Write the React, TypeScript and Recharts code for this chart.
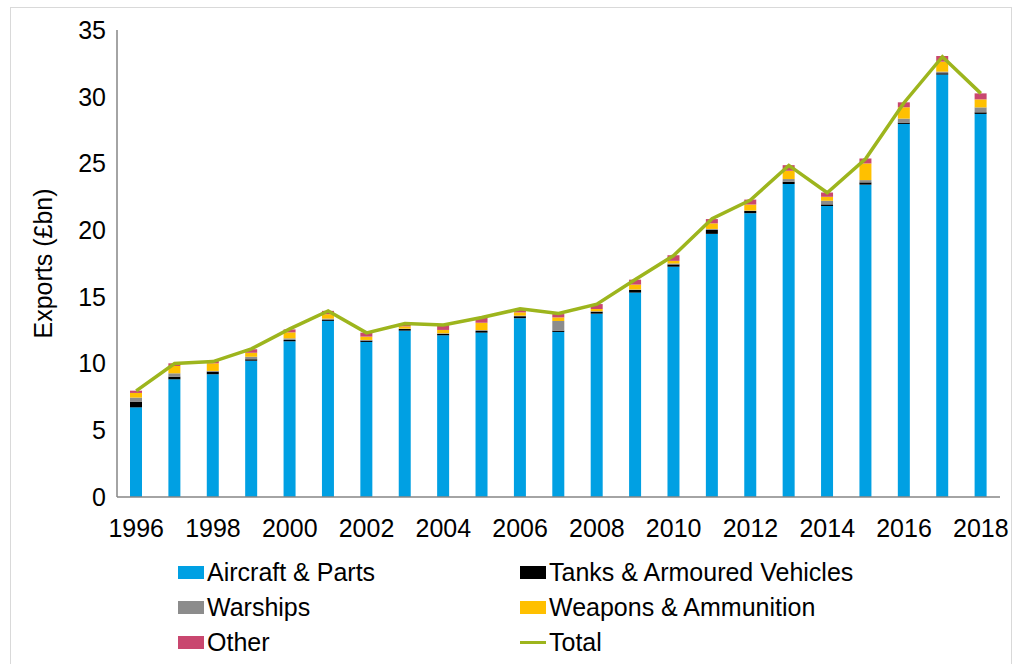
import { ComposedChart, Bar, Line, XAxis, YAxis } from 'recharts';

const YEARS = [
  '1996', '1997', '1998', '1999', '2000', '2001', '2002', '2003', '2004', '2005', '2006', '2007',
  '2008', '2009', '2010', '2011', '2012', '2013', '2014', '2015', '2016', '2017', '2018',
];
const AIRCRAFT = [
  6.72, 8.82, 9.2, 10.22, 11.67, 13.2, 11.62, 12.47, 12.12, 12.32, 13.4, 12.37,
  13.74, 15.32, 17.26, 19.72, 21.27, 23.46, 21.81, 23.41, 27.96, 31.66, 28.71,
];
const TANKS = [
  0.43, 0.2, 0.2, 0.1, 0.1, 0.1, 0.1, 0.12, 0.1, 0.12, 0.15, 0.1,
  0.15, 0.2, 0.17, 0.3, 0.17, 0.17, 0.12, 0.17, 0.1, 0.1, 0.12,
];
const WARSHIPS = [
  0.3, 0.25, 0.05, 0.2, 0.12, 0.07, 0.05, 0.03, 0.05, 0.07, 0.04, 0.72,
  0.03, 0.03, 0.07, 0.07, 0.03, 0.2, 0.27, 0.17, 0.3, 0.12, 0.37,
];
const WEAPONS = [
  0.35, 0.55, 0.57, 0.3, 0.45, 0.33, 0.25, 0.17, 0.25, 0.55, 0.25, 0.27,
  0.17, 0.37, 0.2, 0.42, 0.45, 0.62, 0.3, 1.25, 0.85, 0.75, 0.6,
];
const OTHER = [
  0.17, 0.2, 0.17, 0.25, 0.22, 0.25, 0.3, 0.2, 0.37, 0.37, 0.2, 0.25,
  0.37, 0.37, 0.42, 0.32, 0.37, 0.42, 0.32, 0.37, 0.37, 0.42, 0.45,
];
const TOTAL = [
  7.95, 10.0, 10.15, 11.1, 12.6, 13.95, 12.3, 13.0, 12.9, 13.45, 14.1, 13.75,
  14.45, 16.3, 18.1, 20.85, 22.25, 24.85, 22.8, 25.35, 29.55, 33.0, 30.25,
];

const COLORS = {
  aircraft: '#00A0E3',
  tanks: '#000000',
  warships: '#8C8C8C',
  weapons: '#FFC000',
  other: '#C9476F',
  total: '#9DB51D',
};

const data = YEARS.map((year, i) => ({
  year,
  aircraft: AIRCRAFT[i],
  tanks: TANKS[i],
  warships: WARSHIPS[i],
  weapons: WEAPONS[i],
  other: OTHER[i],
  total: TOTAL[i],
}));

const FONT = 'Arial, "Liberation Sans", sans-serif';

const LEGEND = [
  { name: 'Aircraft & Parts', color: COLORS.aircraft, line: false },
  { name: 'Tanks & Armoured Vehicles', color: COLORS.tanks, line: false },
  { name: 'Warships', color: COLORS.warships, line: false },
  { name: 'Weapons & Ammunition', color: COLORS.weapons, line: false },
  { name: 'Other', color: COLORS.other, line: false },
  { name: 'Total', color: COLORS.total, line: true },
];

const Legend = () => (
  <div style={{ position: 'absolute', left: 178, top: 557, width: 760, fontFamily: FONT, fontSize: 25 }}>
    {LEGEND.map((item, idx) => (
      <div
        key={item.name}
        style={{
          position: 'absolute',
          left: idx % 2 === 0 ? 0 : 342,
          top: Math.floor(idx / 2) * 35,
          display: 'flex',
          alignItems: 'center',
          height: 30,
          whiteSpace: 'nowrap',
        }}
      >
        {item.line ? (
          <span style={{ width: 26, height: 3, backgroundColor: item.color, marginRight: 3 }} />
        ) : (
          <span style={{ width: 26, height: 13, backgroundColor: item.color, marginRight: 3 }} />
        )}
        <span>{item.name}</span>
      </div>
    ))}
  </div>
);

export default function App() {
  return (
    <div style={{ position: 'absolute', left: 0, top: 0, width: 1018, height: 664, background: '#fff', overflow: 'hidden' }}>
      <div style={{ position: 'absolute', left: 10, top: 7, width: 1000, height: 680, border: '1px solid #d9d9d9' }} />
      <div style={{ position: 'absolute', left: 0, top: 0 }}>
        <ComposedChart
          width={1018}
          height={552}
          data={data}
          margin={{ top: 30, right: 18, left: 27, bottom: 0 }}
          barCategoryGap={0}
        >
          <XAxis
            dataKey="year"
            interval={1}
            tickLine={false}
            axisLine={{ stroke: '#868686', strokeWidth: 1.5 }}
            tick={{ fill: '#000', fontSize: 25, fontFamily: FONT }}
            tickMargin={16}
            height={55}
          />
          <YAxis
            width={90}
            domain={[0, 35]}
            ticks={[0, 5, 10, 15, 20, 25, 30, 35]}
            tickLine={false}
            axisLine={{ stroke: '#868686', strokeWidth: 1.5 }}
            tick={{ fill: '#000', fontSize: 25, fontFamily: FONT }}
            tickMargin={5}
            label={{
              value: 'Exports (£bn)',
              angle: -90,
              position: 'insideLeft',
              offset: 16,
              style: { textAnchor: 'middle', fontSize: 25, fontFamily: FONT, fill: '#000' },
            }}
          />
          <Bar dataKey="aircraft" stackId="a" fill={COLORS.aircraft} barSize={12} isAnimationActive={false} />
          <Bar dataKey="tanks" stackId="a" fill={COLORS.tanks} barSize={12} isAnimationActive={false} />
          <Bar dataKey="warships" stackId="a" fill={COLORS.warships} barSize={12} isAnimationActive={false} />
          <Bar dataKey="weapons" stackId="a" fill={COLORS.weapons} barSize={12} isAnimationActive={false} />
          <Bar dataKey="other" stackId="a" fill={COLORS.other} barSize={12} isAnimationActive={false} />
          <Line
            type="linear"
            dataKey="total"
            stroke={COLORS.total}
            strokeWidth={3.5}
            dot={false}
            activeDot={false}
            isAnimationActive={false}
          />
        </ComposedChart>
      </div>
      <Legend />
    </div>
  );
}
